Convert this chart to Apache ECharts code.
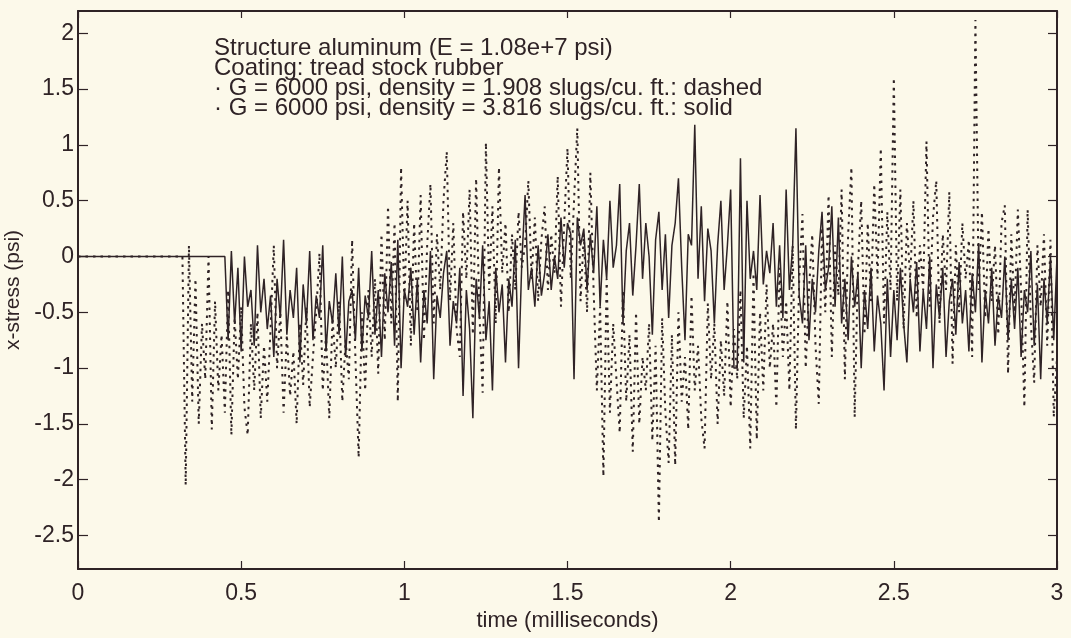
<!DOCTYPE html>
<html>
<head>
<meta charset="utf-8">
<script src="https://cdn.jsdelivr.net/npm/echarts@6/dist/echarts.min.js"></script>
<style>
html,body{margin:0;padding:0;background:#fcf9ea;}
#chart{width:1071px;height:638px;}
</style>
</head>
<body>
<div id="chart"></div>
<script>
// ---- data ----
const dt = 0.01;
const solidStart = 0.45;   // solid trace leaves zero here
const dashStart = 0.33;    // dashed trace leaves zero here

// solid: G = 6000 psi, density = 3.816 slugs/cu. ft. (t = 0.45 ... 3.00)
const solidValues = [
  0, -0.75, 0.05, -0.6, -0.1, -0.85, 0.0, -0.45, -0.3, -0.8,
  0.1, -0.5, -0.2, -0.65, -0.35, -0.9, -0.2, -0.55, 0.15, -0.7,
  -0.3, -0.55, -0.1, -0.95, -0.25, -0.6, 0.05, -0.75, -0.35, -0.55,
  0.1, -0.85, -0.4, -0.6, -0.15, -0.7, 0.0, -0.9, -0.4, -0.3,
  -0.75, -0.1, -0.85, -0.35, -0.55, 0.05, -0.7, -0.3, -0.9, -0.15,
  -0.5, -0.05, -0.8, 0.15, -1.0, -0.3, -0.45, -0.1, -0.7, -0.2,
  -0.95, -0.3, -0.6, 0.05, -1.1, -0.35, -0.55, -0.15, 0.05, -0.8,
  -0.4, -0.6, -0.1, -1.25, -0.3, -0.65, -1.45, -0.2, -0.55, 0.1,
  -0.75, -0.4, -1.2, -0.1, -0.5, -0.25, -0.95, -0.2, -0.45, 0.15,
  -1.0, -0.05, 0.55, -0.3, -0.1, -0.45, 0.1, -0.35, -0.15, 0.2,
  -0.3, 0.0, -0.2, 0.35, -0.1, 0.3, 0.2, -1.1, 0.35, 0.1,
  0.25, -0.3, 0.2, -0.15, 0.45, -0.45, 0.15, -0.2, 0.5, -0.1,
  0.1, 0.65, -0.6, 0.05, 0.3, -0.35, 0.1, 0.65, -0.2, 0.3,
  0.0, -0.7, 0.15, 0.4, -0.3, 0.2, -0.55, 0.1, 0.3, 0.7,
  -0.1, -0.75, 0.2, 0.1, 1.18, -0.2, 0.45, -0.4, 0.25, 0.05,
  -0.6, 0.1, 0.5, -0.3, 0.1, 0.6, -1.0, -1.0, 0.88, -0.95,
  0.5, -0.2, 0.05, -0.3, 0.55, -0.25, 0.05, -0.15, 0.3, -0.45,
  0.1, -0.55, 0.6, -0.3, 0.1, 1.15, -0.35, -0.6, 0.1, -0.75,
  -0.2, -0.5, 0.05, 0.4, -0.3, -0.1, 0.45, -0.45, 0.35, -0.6,
  -0.2, -0.75, 0.0, -0.45, -0.15, -1.0, -0.3, -0.65, -0.1, -0.85,
  -0.35, -0.6, -1.2, -0.2, -0.9, -0.3, -0.75, -0.1, -0.6, -0.95,
  -0.2, -0.5, -0.05, -0.85, -0.3, -0.65, 0.0, -1.0, -0.25, -0.55,
  -0.1, -0.9, -0.4, -0.2, -0.7, -0.05, -0.6, -0.3, -0.85, -0.15,
  -0.5, 0.12, -0.95, -0.3, -0.6, -0.1, -0.8, -0.35, -0.55, 0.0,
  -0.75, -0.2, -0.65, -0.1, -0.9, -0.3, -0.5, 0.05, -0.8, -0.25,
  -1.1, -0.2, -0.6, 0.0, -0.75, 0.0
];

// dashed: G = 6000 psi, density = 1.908 slugs/cu. ft. (t = 0.33 ... 3.00)
const dashValues = [
  -2.05, 0.1, -1.3, -0.2, -1.5, -0.6, -1.1, 0.0, -1.55, -0.4,
  -1.2, -0.7, -1.4, -0.3, -1.6, -0.55, -1.1, -0.45, -1.35, -1.6,
  -0.6, -1.2, -0.5, -1.45, -0.8, -1.3, -0.65, 0.1, -1.0, -0.5,
  -1.4, -0.7, -1.25, -0.85, -1.5, -0.6, -1.15, -0.45, -1.35, -0.9,
  -0.5, 0.03, -1.2, -0.7, -1.45, -0.55, -1.0, -0.4, -1.3, -0.75,
  -1.1, 0.15, -0.9, -1.8, -0.5, -1.2, -0.3, -0.9, -0.2, -1.05,
  0.2, -0.75, 0.45, -0.6, 0.3, -1.3, 0.8, -0.4, 0.5, -0.8,
  0.3, -0.5, 0.55, -0.75, 0.1, 0.65, -0.6, 0.2, -0.3, 0.5,
  0.94, -0.4, 0.3, -0.65, -0.9, 0.4, -0.2, 0.6, -0.7, 0.7,
  -0.5, -1.22, 1.02, -0.3, 0.45, -0.6, 0.8, -0.15, 0.3, -0.5,
  0.2, -0.3, 0.4, -0.1, 0.1, 0.68, -0.2, 0.35, -0.4, 0.15,
  0.45, -0.3, 0.2, -0.15, 0.72, -0.45, 0.3, 0.97, -0.2, 0.5,
  1.15, -0.4, 0.2, -0.5, 0.75, -0.3, -1.2, -0.45, -1.97, -0.2,
  -1.4, -0.6, -1.1, -1.58, -0.3, -1.3, -0.7, -1.75, -0.5, -1.5,
  -0.9, -1.2, -0.6, -1.65, -0.8, -2.38, -0.55, -1.4, -1.85, -0.7,
  -1.87, -0.5, -1.3, -0.9, -1.55, -0.35, -1.2, -0.8, -1.45, -1.72,
  -0.42, -1.1, -0.6, -1.5, -0.75, -1.25, -0.4, -1.35, -0.65, -1.1,
  -0.3, -1.45, -0.8, -1.72, -0.15, -1.64, -0.5, -1.2, -0.25, -1.0,
  -0.6, -1.35, -0.1, -0.9, -0.4, -1.2, 0.1, -1.55, -0.2, 0.38,
  -1.0, -0.3, 0.2, -0.8, -1.32, 0.26, -0.5, 0.55, -0.9, 0.1,
  -0.35, 0.6, -1.1, 0.2, 0.8, -1.44, -0.1, 0.5, -0.7, 0.3,
  -0.4, 0.65, -0.2, 0.97, -0.6, 0.4, -0.3, 1.6, -0.4, 0.6,
  -0.65, 0.3, -0.2, 0.5, -0.55, 0.1, -0.3, 1.03, -0.45, 0.35,
  0.68, -0.6, 0.2, -0.3, 0.58, -0.96, 0.1, -0.5, 0.3, -0.2,
  0.15, -0.9, 2.12, -0.3, 0.4, -0.55, 0.25, -0.4, 0.1, -0.7,
  0.3, 0.46, -1.05, 0.2, -0.5, 0.42, -0.3, -1.35, 0.42, -0.6,
  -1.13, 0.1, -0.45, 0.2, -0.8, 0.15, -1.44, -0.9
];

const xTicks = [0, 0.5, 1, 1.5, 2, 2.5, 3];
const yTicks = [-2.5, -2, -1.5, -1, -0.5, 0, 0.5, 1, 1.5, 2];
const xRange = [0, 3];
const yRange = [-2.8, 2.2];

const notes = [
  'Structure aluminum (E = 1.08e+7 psi)',
  'Coating: tread stock rubber',
  '\u00B7 G = 6000 psi, density = 1.908 slugs/cu. ft.: dashed',
  '\u00B7 G = 6000 psi, density = 3.816 slugs/cu. ft.: solid'
];

// ---- build ----
const ink = '#2f2326';
const font = "'Liberation Sans', Arial, Helvetica, sans-serif";

function toPairs(start, vals) {
  // flat at zero until the trace starts
  const out = [[0, 0], [Math.round((start - dt) * 100) / 100, 0]];
  for (let i = 0; i < vals.length; i++) {
    out.push([Math.round((start + i * dt) * 100) / 100, vals[i]]);
  }
  return out;
}
const solidData = toPairs(solidStart, solidValues);
const dashData = toPairs(dashStart, dashValues);

function axisCommon(extra) {
  return Object.assign({
    type: 'value',
    axisLine: { show: true, onZero: false, lineStyle: { color: ink, width: 2 } },
    splitLine: { show: false },
  }, extra);
}

const chart = echarts.init(document.getElementById('chart'), null, { renderer: 'canvas' });
chart.setOption({
  animation: false,
  backgroundColor: '#fcf9ea',
  grid: { left: 78, right: 14, top: 11, bottom: 69, containLabel: false, outerBoundsMode: 'none' },
  xAxis: [
    axisCommon({
      position: 'bottom', min: xRange[0], max: xRange[1],
      axisTick: { show: true, inside: true, length: 8, customValues: xTicks, lineStyle: { color: ink, width: 1.2 } },
      axisLabel: { customValues: xTicks, color: ink, fontSize: 23, fontFamily: font, margin: 13 },
      name: 'time (milliseconds)', nameLocation: 'middle', nameGap: 40,
      nameTextStyle: { color: ink, fontSize: 22, fontFamily: font }
    }),
    axisCommon({
      position: 'top', min: xRange[0], max: xRange[1],
      axisTick: { show: true, inside: true, length: 7, customValues: xTicks, lineStyle: { color: ink, width: 1.2 } },
      axisLabel: { show: false }
    })
  ],
  yAxis: [
    axisCommon({
      position: 'left', min: yRange[0], max: yRange[1],
      axisTick: { show: true, inside: true, length: 10, customValues: yTicks, lineStyle: { color: ink, width: 1.2 } },
      axisLabel: { customValues: yTicks, color: ink, fontSize: 23, fontFamily: font, margin: 4 },
      name: 'x-stress (psi)', nameLocation: 'middle', nameGap: 53, nameRotate: 90,
      nameTextStyle: { color: ink, fontSize: 21, fontFamily: font }
    }),
    axisCommon({
      position: 'right', min: yRange[0], max: yRange[1],
      axisTick: { show: true, inside: true, length: 9, customValues: yTicks, lineStyle: { color: ink, width: 1.2 } },
      axisLabel: { show: false }
    })
  ],
  series: [
    {
      name: 'dashed', type: 'line', data: dashData, xAxisIndex: 0, yAxisIndex: 0,
      showSymbol: false, symbol: 'none', z: 2,
      lineStyle: { color: ink, width: 2, type: [2.5, 5] }
    },
    {
      name: 'solid', type: 'line', data: solidData, xAxisIndex: 0, yAxisIndex: 0,
      showSymbol: false, symbol: 'none', z: 3,
      lineStyle: { color: ink, width: 1.5 }
    }
  ],
  graphic: notes.map((t, i) => ({
    type: 'text', left: 214, top: 36 + i * 20, z: 10,
    style: { text: t, fill: ink, font: "24px " + font }
  }))
});
</script>
</body>
</html>
